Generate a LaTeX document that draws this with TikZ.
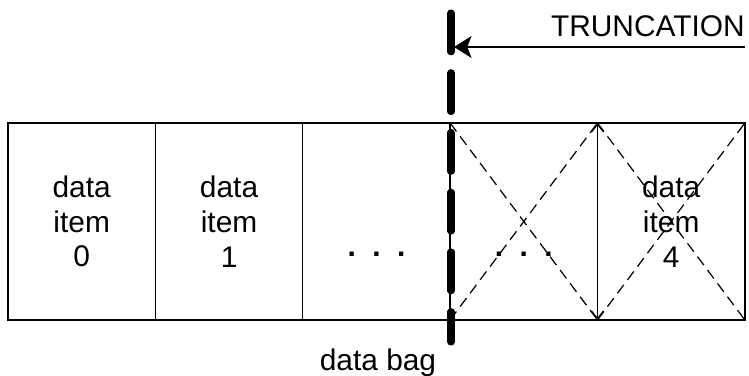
\documentclass[tikz,border=0pt]{standalone}
\usepackage{fontspec}
\setmainfont{Liberation Sans}
\usetikzlibrary{arrows.meta, positioning}

\newcommand{\bagdots}{\textbf{.\hspace{0.55em}.\hspace{0.55em}.}}

\tikzset{
  lbl/.style={font=\fontsize{17}{19.8}\selectfont},
  cell/.style={draw, lbl, line width=0.8pt, outer sep=0pt, inner sep=0pt,
    minimum width=2.948cm, minimum height=3.94cm, align=center},
  cross/.style={line width=0.7pt, dash pattern=on 6pt off 3.5pt},
  cut/.style={line width=4pt, line cap=round, dash pattern=on 22.1pt off 11.9pt}
}

\begin{document}
\begin{tikzpicture}[>=Stealth, x=0.02cm, y=-0.02cm]

\useasboundingbox (0,0) rectangle (749,375);

% the bag: five cells in a row
\node[cell, anchor=north west] (c0) at (8,123) {data\\item\\0};
\node[cell, right=0pt of c0] (c1) {data\\item\\1};
\node[cell, right=0pt of c1] (c2) {\mbox{}\\\mbox{}\\\bagdots};
\node[cell, right=0pt of c2] (c3) {\mbox{}\\\mbox{}\\\bagdots};
\node[cell, right=0pt of c3] (c4) {data\\item\\4};

% cells cut away are crossed out
\foreach \c in {c3,c4}{
  \draw[cross] (\c.north west) -- (\c.south east);
  \draw[cross] (\c.south west) -- (\c.north east);
}
\draw[line width=0.8pt, {Straight Barb[length=4.5pt,width=7pt]}-{Straight Barb[length=4.5pt,width=7pt]}]
  (c3.north east) -- (c3.south east);

% truncation point
\coordinate (tt) at (451,13);
\coordinate (tb) at (451,342);
\draw[cut] (tt) -- (tb);

\coordinate (ts) at (745,47);
\coordinate (tp) at (454,47);
\draw[line width=0.8pt, -{Stealth[length=10pt,width=12.5pt,inset=2.5pt]}] (ts) -- (tp);
\node[lbl, anchor=base east, inner sep=0pt] (trunc) at (745,37) {TRUNCATION};

\node[lbl, anchor=base, inner sep=0pt] (bag) at (378,370) {data bag};

\end{tikzpicture}
\end{document}
